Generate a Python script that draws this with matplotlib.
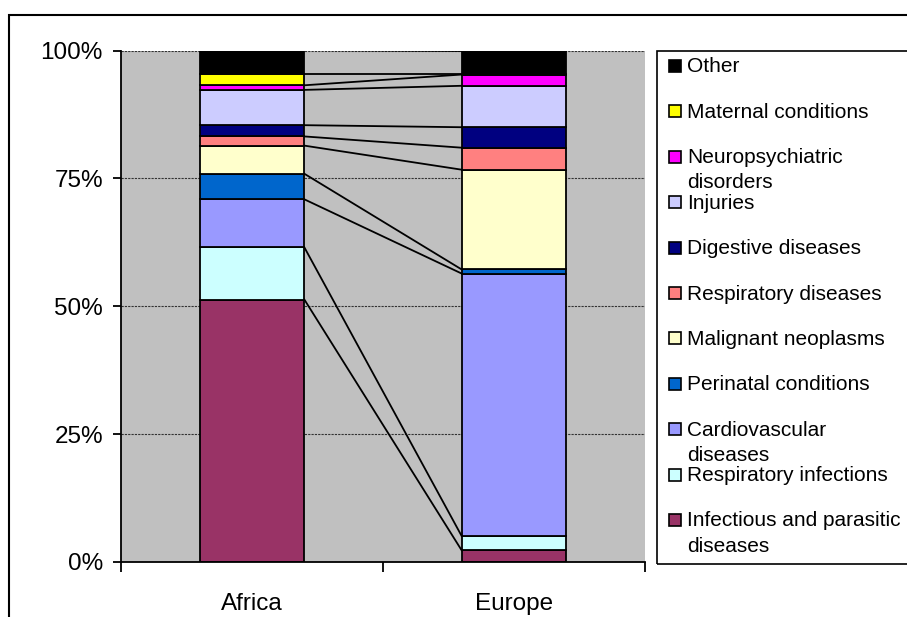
import matplotlib
matplotlib.use('Agg')
import matplotlib.pyplot as plt
from matplotlib.patches import Rectangle

# ---------------- data ----------------
regions = ['Africa', 'Europe']
causes = ['Infectious and parasitic diseases', 'Respiratory infections',
          'Cardiovascular diseases', 'Perinatal conditions', 'Malignant neoplasms',
          'Respiratory diseases', 'Digestive diseases', 'Injuries',
          'Neuropsychiatric disorders', 'Maternal conditions', 'Other']
legend_labels = ['Infectious and parasitic\ndiseases', 'Respiratory infections',
                 'Cardiovascular\ndiseases', 'Perinatal conditions', 'Malignant neoplasms',
                 'Respiratory diseases', 'Digestive diseases', 'Injuries',
                 'Neuropsychiatric\ndisorders', 'Maternal conditions', 'Other']
africa = [51.3, 10.2, 9.4, 5.0, 5.5, 1.8, 2.2, 6.9, 0.9, 2.2, 4.6]
europe = [2.3, 2.8, 51.3, 0.8, 19.5, 4.3, 4.0, 8.1, 2.2, 0.1, 4.6]
colors = ['#993366', '#CCFFFF', '#9999FF', '#0066CC', '#FFFFCC', '#FF8080',
          '#000080', '#CCCCFF', '#FF00FF', '#FFFF00', '#000000']
yticks = [0, 25, 50, 75, 100]
ytick_labels = ['0%', '25%', '50%', '75%', '100%']

# ---------------- figure ----------------
W, H = 907, 617
plt.rcParams['font.family'] = ['Liberation Sans', 'DejaVu Sans']
fig = plt.figure(figsize=(W / 100, H / 100), dpi=100)
fig.patch.set_facecolor('white')

def fx(px):
    return px / W

def fy(py):
    return 1 - py / H

ax = fig.add_axes([fx(121), fy(562), (645 - 121) / W, (562 - 50.5) / H])
ax.set_facecolor('#C0C0C0')
ax.set_xlim(-0.5, 1.5)
ax.set_ylim(0, 100)

bar_w = 0.4
xs = [0, 1]
bottoms = [0.0, 0.0]
tops = []
for i, c in enumerate(causes):
    vals = [africa[i], europe[i]]
    ax.bar(xs, vals, bottom=bottoms, width=bar_w, color=colors[i],
           edgecolor='black', linewidth=1.3, zorder=3)
    bottoms = [bottoms[0] + vals[0], bottoms[1] + vals[1]]
    tops.append(list(bottoms))

# series lines
for t in tops:
    ax.plot([xs[0] + bar_w / 2, xs[1] - bar_w / 2], [t[0], t[1]],
            color='black', linewidth=1.3, zorder=2)

ax.set_axisbelow(True)
ax.yaxis.grid(True, color='#333333', linestyle=(0, (2, 1)), linewidth=0.8, zorder=1)

for s in ['top', 'right']:
    ax.spines[s].set_visible(False)
for s in ['left', 'bottom']:
    ax.spines[s].set_linewidth(1.3)
    ax.spines[s].set_color('black')
    ax.spines[s].set_zorder(4)

ax.set_yticks(yticks, ytick_labels)
ax.tick_params(axis='y', direction='out', length=6, width=1.3, pad=7, labelsize=17.5)
ax.set_xticks(xs, regions)
ax.set_xticks([-0.5, 0.5, 1.5], minor=True)
ax.tick_params(axis='x', which='major', length=0, pad=22, labelsize=17.5)
ax.tick_params(axis='x', which='minor', direction='out', length=7, width=1.3)

# outer chart border
fig.patches.append(Rectangle((fx(9), fy(640)), (940 - 9) / W, (640 - 14.7) / H,
                             transform=fig.transFigure, fill=False,
                             edgecolor='black', linewidth=1.5))
# legend box
fig.patches.append(Rectangle((fx(657), fy(564)), (940 - 657) / W, (564 - 50.7) / H,
                             transform=fig.transFigure, fill=False,
                             edgecolor='black', linewidth=1.2))

# legend entries (top to bottom = reversed stack order)
order = list(range(len(causes)))[::-1]
for k, idx in enumerate(order):
    yc = 66 + k * 45.4
    fig.patches.append(Rectangle((fx(669), fy(yc + 6)), 12 / W, 12 / H,
                                 transform=fig.transFigure, facecolor=colors[idx],
                                 edgecolor='black', linewidth=1.2))
    for j, line in enumerate(legend_labels[idx].split('\n')):
        fig.text(fx(687), fy(yc + 1 + j * 25), line, fontsize=15,
                 ha='left', va='center')

fig.savefig('out.png', dpi=100)
